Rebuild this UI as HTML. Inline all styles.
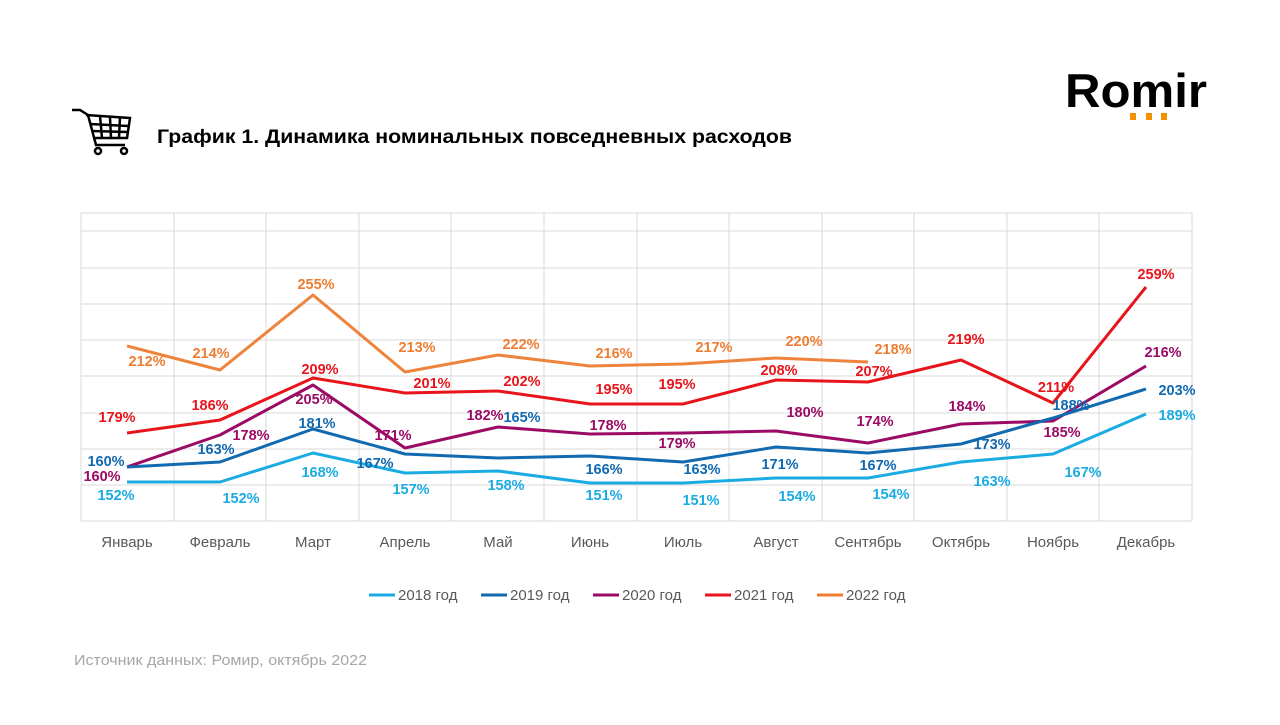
<!DOCTYPE html>
<html><head><meta charset="utf-8"><style>
body{margin:0;width:1280px;height:720px;background:#fff;font-family:"Liberation Sans",sans-serif;overflow:hidden}
</style></head><body>
<svg width="1280" height="720" xmlns="http://www.w3.org/2000/svg" font-family="Liberation Sans, sans-serif">
<g stroke="#000" stroke-width="2.5" fill="none">
<path d="M72 110 L80 110 L88 115 L96 145 L125 145"/>
<path d="M86 115 L130 118 L127 138 L93 138"/>
<path d="M90 124 L129 126 M92 131 L128 132 M100 116 L102 138 M110 117 L111 138 M120 117 L119 138"/>
<circle cx="98" cy="151" r="3"/><circle cx="124" cy="151" r="3"/>
</g>
<text x="157" y="143" font-size="19.5" font-weight="bold" fill="#000" textLength="635" lengthAdjust="spacingAndGlyphs">График 1. Динамика номинальных повседневных расходов</text>
<text x="1065" y="107" font-size="47" font-weight="bold" fill="#000" textLength="142" lengthAdjust="spacingAndGlyphs">Romir</text>
<rect x="1130" y="113" width="6" height="7" fill="#f39200"/><rect x="1146" y="113" width="6" height="7" fill="#f39200"/><rect x="1161" y="113" width="6" height="7" fill="#f39200"/>
<g stroke="#d9d9d9" stroke-width="1">
<line x1="81" y1="213" x2="1192" y2="213"/><line x1="81" y1="231" x2="1192" y2="231"/><line x1="81" y1="268" x2="1192" y2="268"/><line x1="81" y1="304" x2="1192" y2="304"/><line x1="81" y1="340" x2="1192" y2="340"/><line x1="81" y1="376" x2="1192" y2="376"/><line x1="81" y1="413" x2="1192" y2="413"/><line x1="81" y1="449" x2="1192" y2="449"/><line x1="81" y1="485" x2="1192" y2="485"/><line x1="81" y1="521" x2="1192" y2="521"/>
<line x1="81" y1="213" x2="81" y2="521"/><line x1="174" y1="213" x2="174" y2="521"/><line x1="266" y1="213" x2="266" y2="521"/><line x1="359" y1="213" x2="359" y2="521"/><line x1="451" y1="213" x2="451" y2="521"/><line x1="544" y1="213" x2="544" y2="521"/><line x1="637" y1="213" x2="637" y2="521"/><line x1="729" y1="213" x2="729" y2="521"/><line x1="822" y1="213" x2="822" y2="521"/><line x1="914" y1="213" x2="914" y2="521"/><line x1="1007" y1="213" x2="1007" y2="521"/><line x1="1099" y1="213" x2="1099" y2="521"/><line x1="1192" y1="213" x2="1192" y2="521"/>
</g>
<g fill="none" stroke-width="3" stroke-linejoin="round">
<polyline stroke="#ed7d31" points="127,346 220,370 313,295 405,372 498,355 590,366 683,364 776,358 868,362" stroke-opacity="0.95"/>
<polyline stroke="#e8141b" points="127,433 220,420 313,378 405,393 498,391 590,404 683,404 776,380 868,382 961,360 1053,403 1146,287"/>
<polyline stroke="#9b0b65" points="127,467 220,435 313,385 405,448 498,427 590,434 683,433 776,431 868,443 961,424 1053,421 1146,366"/>
<polyline stroke="#1169b0" points="127,467 220,462 313,429 405,454 498,458 590,456 683,462 776,447 868,453 961,444 1053,418 1146,389"/>
<polyline stroke="#1aabe3" points="127,482 220,482 313,453 405,473 498,471 590,483 683,483 776,478 868,478 961,462 1053,454 1146,414"/>
</g>
<g font-size="14.5" font-weight="bold" text-anchor="middle">
<g fill="#ed7d31"><text x="147" y="366">212%</text><text x="211" y="358">214%</text><text x="316" y="289">255%</text><text x="417" y="352">213%</text><text x="521" y="349">222%</text><text x="614" y="358">216%</text><text x="714" y="352">217%</text><text x="804" y="346">220%</text><text x="893" y="354">218%</text></g>
<g fill="#e8141b"><text x="117" y="422">179%</text><text x="210" y="410">186%</text><text x="320" y="374">209%</text><text x="432" y="388">201%</text><text x="522" y="386">202%</text><text x="614" y="394">195%</text><text x="677" y="389">195%</text><text x="779" y="375">208%</text><text x="874" y="376">207%</text><text x="966" y="344">219%</text><text x="1056" y="392">211%</text><text x="1156" y="279">259%</text></g>
<g fill="#9b0b65"><text x="102" y="481">160%</text><text x="251" y="440">178%</text><text x="314" y="404">205%</text><text x="393" y="440">171%</text><text x="485" y="420">182%</text><text x="608" y="430">178%</text><text x="677" y="448">179%</text><text x="805" y="417">180%</text><text x="875" y="426">174%</text><text x="967" y="411">184%</text><text x="1062" y="437">185%</text><text x="1163" y="357">216%</text></g>
<g fill="#1169b0"><text x="106" y="466">160%</text><text x="216" y="454">163%</text><text x="317" y="428">181%</text><text x="375" y="468">167%</text><text x="522" y="422">165%</text><text x="604" y="474">166%</text><text x="702" y="474">163%</text><text x="780" y="469">171%</text><text x="878" y="470">167%</text><text x="992" y="449">173%</text><text x="1071" y="410">188%</text><text x="1177" y="395">203%</text></g>
<g fill="#1aabe3"><text x="116" y="500">152%</text><text x="241" y="503">152%</text><text x="320" y="477">168%</text><text x="411" y="494">157%</text><text x="506" y="490">158%</text><text x="604" y="500">151%</text><text x="701" y="505">151%</text><text x="797" y="501">154%</text><text x="891" y="499">154%</text><text x="992" y="486">163%</text><text x="1083" y="477">167%</text><text x="1177" y="420">189%</text></g>
</g>
<g font-size="15" fill="#595959" text-anchor="middle">
<text x="127" y="547">Январь</text><text x="220" y="547">Февраль</text><text x="313" y="547">Март</text><text x="405" y="547">Апрель</text><text x="498" y="547">Май</text><text x="590" y="547">Июнь</text><text x="683" y="547">Июль</text><text x="776" y="547">Август</text><text x="868" y="547">Сентябрь</text><text x="961" y="547">Октябрь</text><text x="1053" y="547">Ноябрь</text><text x="1146" y="547">Декабрь</text>
</g>
<g font-size="15" fill="#595959" stroke-width="3">
<line x1="369" y1="595" x2="395" y2="595" stroke="#1aabe3"/><text x="398" y="600">2018 год</text>
<line x1="481" y1="595" x2="507" y2="595" stroke="#1169b0"/><text x="510" y="600">2019 год</text>
<line x1="593" y1="595" x2="619" y2="595" stroke="#9b0b65"/><text x="622" y="600">2020 год</text>
<line x1="705" y1="595" x2="731" y2="595" stroke="#e8141b"/><text x="734" y="600">2021 год</text>
<line x1="817" y1="595" x2="843" y2="595" stroke="#ed7d31"/><text x="846" y="600">2022 год</text>
</g>
<text x="74" y="665" font-size="15" fill="#a6a6a6" textLength="293" lengthAdjust="spacingAndGlyphs">Источник данных: Ромир, октябрь 2022</text>
</svg>
</body></html>
